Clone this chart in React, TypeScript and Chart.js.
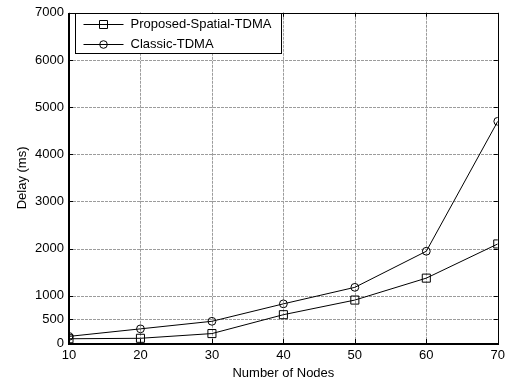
import React, { useEffect, useRef } from "react";
import { Chart, registerables } from "chart.js";

Chart.register(...registerables);

const nodes = [10, 20, 30, 40, 50, 60, 70];
const proposedDelay = [90, 100, 200, 600, 910, 1375, 2100];
const classicDelay = [140, 300, 460, 830, 1180, 1945, 4700];
const yTickValues = [0, 500, 1000, 2000, 3000, 4000, 5000, 6000, 7000];
const xTickValues = [10, 20, 30, 40, 50, 60, 70];
const seriesNames = ["Proposed-Spatial-TDMA", "Classic-TDMA"];

const FONT = "'Liberation Sans', Arial, Helvetica, sans-serif";

const framePlugin = {
  id: "matlabFrame",
  beforeDatasetsDraw(chart: any) {
    const { ctx, chartArea: a, scales } = chart;
    const xs = scales.x;
    const ys = scales.y;
    ctx.save();
    // grid
    ctx.strokeStyle = "#9c9c9c";
    ctx.lineWidth = 1;
    ctx.setLineDash([3, 1]);
    xTickValues.forEach((v) => {
      const px = Math.round(xs.getPixelForValue(v)) + 0.5;
      if (px <= a.left + 1 || px >= a.right - 1) return;
      ctx.beginPath();
      ctx.moveTo(px, a.top);
      ctx.lineTo(px, a.bottom);
      ctx.stroke();
    });
    yTickValues.forEach((v) => {
      const py = Math.round(ys.getPixelForValue(v)) + 0.5;
      if (py <= a.top + 1 || py >= a.bottom - 1) return;
      ctx.beginPath();
      ctx.moveTo(a.left, py);
      ctx.lineTo(a.right, py);
      ctx.stroke();
    });
    ctx.setLineDash([]);
    // inward ticks
    ctx.strokeStyle = "#000";
    const tl = 4;
    xTickValues.forEach((v) => {
      const px = Math.round(xs.getPixelForValue(v)) + 0.5;
      ctx.beginPath();
      ctx.moveTo(px, a.bottom);
      ctx.lineTo(px, a.bottom - tl);
      ctx.moveTo(px, a.top);
      ctx.lineTo(px, a.top + tl);
      ctx.stroke();
    });
    yTickValues.forEach((v) => {
      const py = Math.round(ys.getPixelForValue(v)) + 0.5;
      ctx.beginPath();
      ctx.moveTo(a.left, py);
      ctx.lineTo(a.left + tl, py);
      ctx.moveTo(a.right, py);
      ctx.lineTo(a.right - tl, py);
      ctx.stroke();
    });
    // frame
    ctx.lineWidth = 1;
    ctx.strokeRect(
      Math.round(a.left) + 0.5,
      Math.round(a.top) + 0.5,
      Math.round(a.right - a.left),
      Math.round(a.bottom - a.top)
    );
    ctx.lineWidth = 2;
    ctx.beginPath();
    ctx.moveTo(Math.round(a.left), Math.round(a.top));
    ctx.lineTo(Math.round(a.left), Math.round(a.bottom) + 1);
    ctx.lineTo(Math.round(a.right) + 1, Math.round(a.bottom) + 1);
    ctx.stroke();
    ctx.restore();
  },
  afterDraw(chart: any) {
    const { ctx, chartArea: a } = chart;
    ctx.save();
    const bx = a.left + 6.5;
    const by = 13.5;
    const bw = 206;
    const bh = 40;
    ctx.fillStyle = "#fff";
    ctx.fillRect(bx, by, bw, bh);
    ctx.strokeStyle = "#000";
    ctx.lineWidth = 1;
    ctx.strokeRect(bx, by, bw, bh);
    const rows = [by + 10, by + 30];
    ctx.font = `13px ${FONT}`;
    ctx.textBaseline = "middle";
    ctx.textAlign = "left";
    rows.forEach((ry, i) => {
      const y = Math.round(ry) + 0.5;
      ctx.strokeStyle = "#000";
      ctx.lineWidth = 1;
      ctx.beginPath();
      ctx.moveTo(bx + 8, y);
      ctx.lineTo(bx + 48, y);
      ctx.stroke();
      const mx = bx + 28;
      ctx.beginPath();
      if (i === 0) {
        ctx.rect(mx - 4, y - 4, 8, 8);
      } else {
        ctx.arc(mx, y, 3.8, 0, Math.PI * 2);
      }
      ctx.stroke();
      ctx.fillStyle = "#000";
      ctx.fillText(seriesNames[i], bx + 55, ry + 1);
    });
    ctx.restore();
  },
};

export default function App() {
  const canvasRef = useRef<HTMLCanvasElement>(null);

  useEffect(() => {
    document.body.style.margin = "0";
    const canvas = canvasRef.current;
    if (!canvas) return;
    const chart = new Chart(canvas, {
      type: "line",
      data: {
        datasets: [
          {
            label: seriesNames[0],
            data: nodes.map((n, i) => ({ x: n, y: proposedDelay[i] })),
            borderColor: "#000",
            borderWidth: 1,
            pointStyle: "rect",
            pointRadius: 5.7,
            pointBorderWidth: 1,
            pointBorderColor: "#000",
            pointBackgroundColor: "rgba(0,0,0,0)",
            tension: 0,
          },
          {
            label: seriesNames[1],
            data: nodes.map((n, i) => ({ x: n, y: classicDelay[i] })),
            borderColor: "#000",
            borderWidth: 1,
            pointStyle: "circle",
            pointRadius: 3.9,
            pointBorderWidth: 1,
            pointBorderColor: "#000",
            pointBackgroundColor: "rgba(0,0,0,0)",
            tension: 0,
          },
        ],
      },
      options: {
        animation: false,
        responsive: false,
        devicePixelRatio: 1,
        layout: { padding: { left: 0, right: 11, top: 6, bottom: 0 } },
        plugins: {
          legend: { display: false },
          tooltip: { enabled: false },
        },
        scales: {
          x: {
            type: "linear",
            min: 10,
            max: 70,
            afterBuildTicks: (scale: any) => {
              scale.ticks = xTickValues.map((v) => ({ value: v }));
            },
            afterFit: (scale: any) => {
              scale.height = 42;
            },
            grid: { display: false, drawTicks: false },
            border: { display: false },
            ticks: {
              color: "#000",
              padding: 5,
              maxRotation: 0,
              font: { family: FONT, size: 13 },
              callback: (v: any) => String(v),
            },
            title: {
              display: true,
              text: "Number of Nodes",
              color: "#000",
              font: { family: FONT, size: 13 },
              padding: { top: 0, bottom: 4 },
            },
          },
          y: {
            type: "linear",
            min: 0,
            max: 7000,
            afterBuildTicks: (scale: any) => {
              scale.ticks = yTickValues.map((v) => ({ value: v }));
            },
            afterFit: (scale: any) => {
              scale.width = 69;
            },
            grid: { display: false, drawTicks: false },
            border: { display: false },
            ticks: {
              color: "#000",
              padding: 5,
              font: { family: FONT, size: 13 },
              callback: (v: any) => String(v),
            },
            title: {
              display: true,
              text: "Delay (ms)",
              color: "#000",
              font: { family: FONT, size: 13 },
              padding: { top: 15, bottom: 0 },
            },
          },
        },
      },
      plugins: [framePlugin],
    });
    return () => chart.destroy();
  }, []);

  return (
    <div style={{ position: "absolute", left: 0, top: 0, width: 510, height: 385, background: "#fff" }}>
      <canvas ref={canvasRef} width={510} height={385} style={{ width: 510, height: 385, display: "block" }} />
    </div>
  );
}
